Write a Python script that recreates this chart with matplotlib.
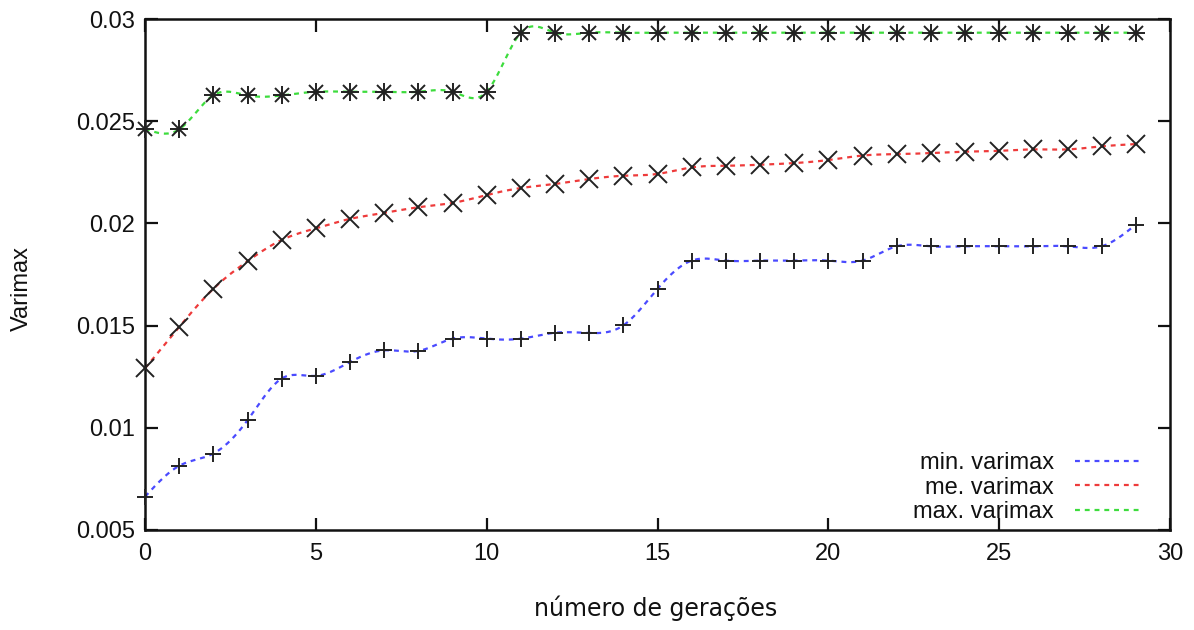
import numpy as np
import matplotlib
matplotlib.use("Agg")
import matplotlib.pyplot as plt
from matplotlib.lines import Line2D

# Varimax per generation
geracoes = list(range(30))

min_varimax = [0.00663, 0.00814, 0.00874, 0.01037, 0.01241, 0.01254, 0.01322, 0.01379,
               0.01376, 0.01436, 0.01436, 0.01436, 0.01465, 0.01464, 0.01501, 0.01680,
               0.01818, 0.01818, 0.01818, 0.01818, 0.01818, 0.01818, 0.01888, 0.01888,
               0.01888, 0.01888, 0.01888, 0.01888, 0.01888, 0.01994]

me_varimax = [0.01291, 0.01493, 0.01680, 0.01815, 0.01919, 0.01976, 0.02022, 0.02051,
              0.02079, 0.02100, 0.02139, 0.02173, 0.02193, 0.02217, 0.02233, 0.02242,
              0.02274, 0.02282, 0.02287, 0.02295, 0.02310, 0.02332, 0.02339, 0.02344,
              0.02351, 0.02355, 0.02362, 0.02362, 0.02377, 0.02388]

max_varimax = [0.02463, 0.02460, 0.02627, 0.02626, 0.02626, 0.02644, 0.02644, 0.02644,
               0.02644, 0.02644, 0.02644, 0.02933, 0.02933, 0.02933, 0.02933, 0.02933,
               0.02933, 0.02933, 0.02933, 0.02933, 0.02933, 0.02933, 0.02933, 0.02933,
               0.02933, 0.02933, 0.02933, 0.02933, 0.02933, 0.02933]

legend_labels = ["min. varimax", "me. varimax", "max. varimax"]
x_ticks = [0, 5, 10, 15, 20, 25, 30]
y_ticks = [0.005, 0.01, 0.015, 0.02, 0.025, 0.03]
y_tick_labels = ["0.005", "0.01", "0.015", "0.02", "0.025", "0.03"]


def natural_spline(x, y, num=600):
    """Natural cubic spline through (x, y), evaluated on a fine grid."""
    x = np.asarray(x, float)
    y = np.asarray(y, float)
    n = len(x)
    h = np.diff(x)
    A = np.zeros((n, n))
    b = np.zeros(n)
    A[0, 0] = A[-1, -1] = 1.0
    for i in range(1, n - 1):
        A[i, i - 1] = h[i - 1]
        A[i, i] = 2 * (h[i - 1] + h[i])
        A[i, i + 1] = h[i]
        b[i] = 3 * ((y[i + 1] - y[i]) / h[i] - (y[i] - y[i - 1]) / h[i - 1])
    c = np.linalg.solve(A, b)
    bb = (y[1:] - y[:-1]) / h - h * (2 * c[:-1] + c[1:]) / 3
    d = (c[1:] - c[:-1]) / (3 * h)
    xs = np.linspace(x[0], x[-1], num)
    idx = np.clip(np.searchsorted(x, xs, side="right") - 1, 0, n - 2)
    t = xs - x[idx]
    ys = y[idx] + bb[idx] * t + c[idx] * t ** 2 + d[idx] * t ** 3
    return xs, ys


W, H = 1194, 630
fig = plt.figure(figsize=(W / 100, H / 100), dpi=100)
ax = fig.add_axes([145 / W, 1 - 530 / H, (1170 - 145) / W, (530 - 19) / H])

colors = ["#4a4aff", "#ee3b3b", "#3ddc3d"]
series = [min_varimax, me_varimax, max_varimax]
dash = (0, (2.2, 2.2))

for vals, col in zip(series, colors):
    xs, ys = natural_spline(geracoes, vals)
    ax.plot(xs, ys, color=col, lw=1.6, linestyle=dash, zorder=2)

mk = dict(color="#222222", linestyle="none", zorder=3, clip_on=False)
ax.plot(geracoes, min_varimax, marker="+", markersize=12, mew=1.4, **mk)
ax.plot(geracoes, me_varimax, marker="x", markersize=12.5, mew=1.4, **mk)
ax.plot(geracoes, max_varimax, marker="+", markersize=13, mew=1.4, **mk)
ax.plot(geracoes, max_varimax, marker="x", markersize=10, mew=1.4, **mk)
ax.plot(geracoes, max_varimax, marker="s", markersize=3.5, mew=0, **mk)

ax.set_xlim(0, 30)
ax.set_ylim(0.005, 0.03)
ax.set_xticks(x_ticks)
ax.set_yticks(y_ticks)
ax.set_yticklabels(y_tick_labels)

for lab in ax.get_xticklabels() + ax.get_yticklabels():
    lab.set_fontfamily(["Liberation Sans", "DejaVu Sans"])
    lab.set_fontsize(17)
    lab.set_color("#111111")

ax.tick_params(direction="in", length=9, width=1.6, top=True, right=True,
               pad=7, colors="#111111")
ax.tick_params(axis="x", pad=9)
for sp in ax.spines.values():
    sp.set_linewidth(1.8)
    sp.set_color("#111111")

# Axis titles
fig.text(656 / W, 1 - 608 / H, "número de gerações", fontsize=17,
         family="DejaVu Sans", color="#111111", ha="center", va="center")
fig.text(22 / W, 1 - 289 / H, "Varimax", fontsize=17, rotation=90,
         family="Liberation Sans", color="#111111", ha="center", va="center")

handles = [Line2D([0], [0], color=c, lw=1.6, linestyle=dash) for c in colors]
leg = ax.legend(handles, legend_labels, loc="lower right", frameon=False,
                markerfirst=False, handlelength=2.75, handletextpad=0.9,
                labelspacing=0.1, borderaxespad=0.0, borderpad=0.0,
                prop=dict(family="Liberation Sans", size=17),
                bbox_to_anchor=((1140 - 145) / (1170 - 145), (530 - 523) / (530 - 19)))
for t in leg.get_texts():
    t.set_color("#111111")

fig.savefig("out.png", dpi=100, facecolor="white")
